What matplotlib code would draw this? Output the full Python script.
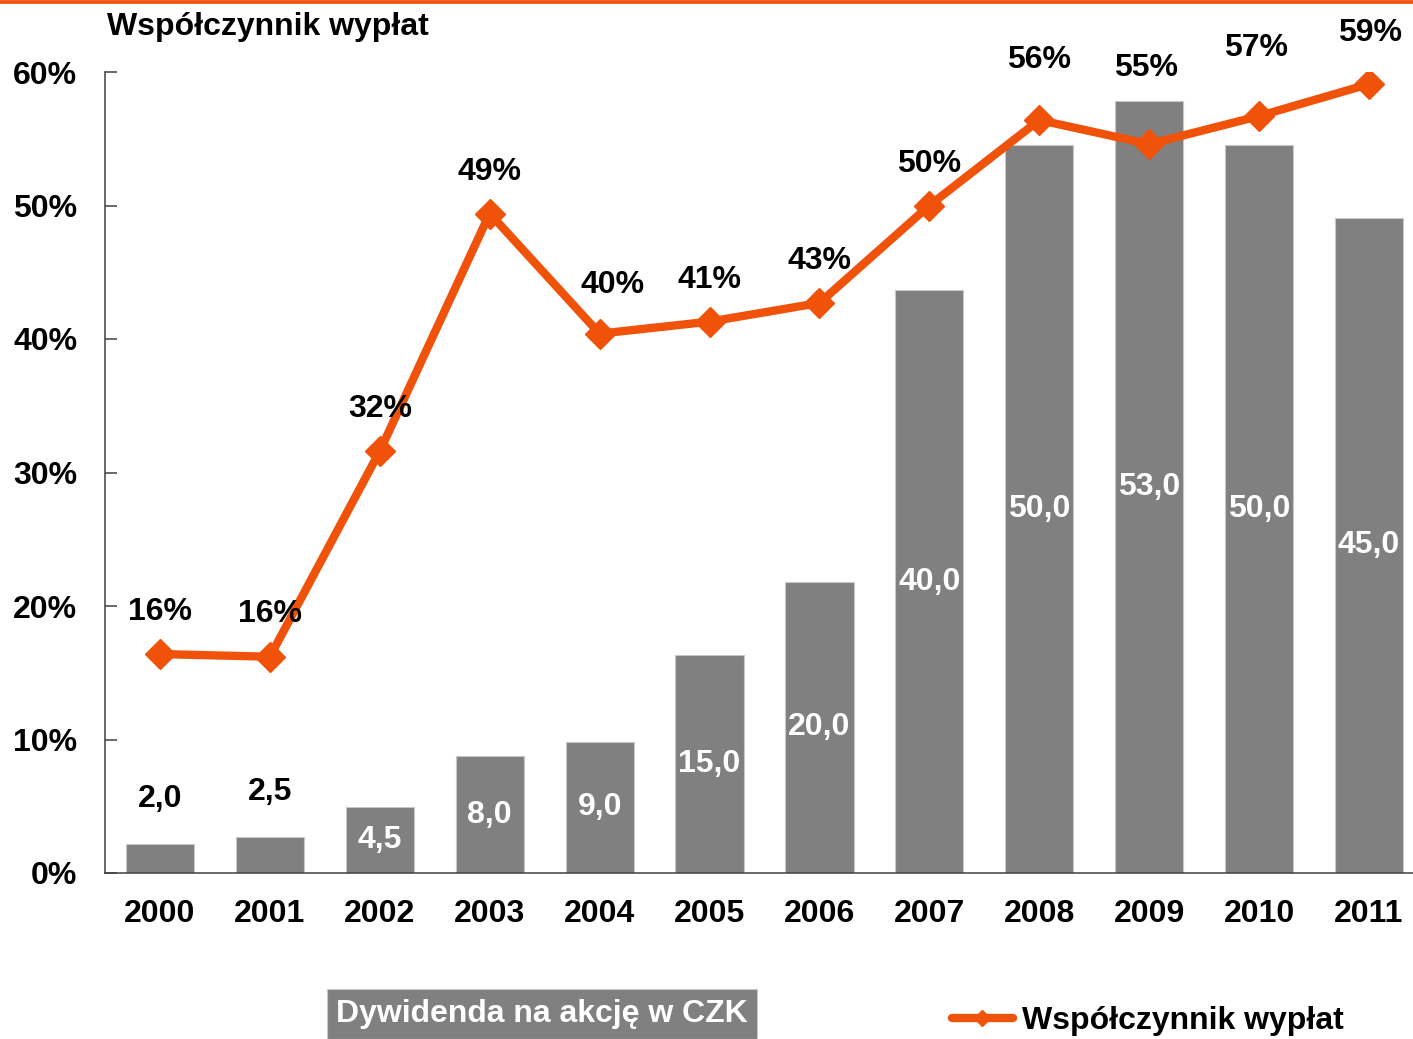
import matplotlib
matplotlib.use("Agg")
import matplotlib.pyplot as plt
from matplotlib.lines import Line2D
from matplotlib.ticker import FuncFormatter

plt.rcParams['font.family'] = ['Liberation Sans', 'DejaVu Sans']
plt.rcParams['font.weight'] = 'bold'

years = ['2000', '2001', '2002', '2003', '2004', '2005', '2006', '2007', '2008', '2009', '2010', '2011']
dividend_czk = [2.0, 2.5, 4.5, 8.0, 9.0, 15.0, 20.0, 40.0, 50.0, 53.0, 50.0, 45.0]
payout_pct = [16.4, 16.2, 31.6, 49.4, 40.4, 41.3, 42.7, 50.0, 56.4, 54.6, 56.7, 59.1]
payout_labels = ['16%', '16%', '32%', '49%', '40%', '41%', '43%', '50%', '56%', '55%', '57%', '59%']
pct_ticks = [0, 10, 20, 30, 40, 50, 60]

# label offsets (points) for the payout labels
lab_dy = [30, 31, 30, 30, 35, 30, 30, 30, 43, 55, 49, 37]
lab_dx = [0, 0, 0, 0, 9, 0, 0, 0, 0, -2, -2, 1]

ORANGE = '#F0520A'
GRAY = '#808080'
FS = 23
W, H = 1413, 1039

fig = plt.figure(figsize=(W / 100, H / 100), dpi=100)
left = 105 / W
right_px = 1424
bottom = (H - 873) / H
top = (H - 72) / H
ax = fig.add_axes([left, bottom, (right_px - 105) / W, top - bottom])
ax2 = ax.twinx()

x = list(range(len(years)))

# Bars (dividend per share)
ax.bar(x, dividend_czk, width=0.62, color=GRAY, edgecolor='#c8c8c8', linewidth=0.8, zorder=2)
ax.set_ylim(0, 55)
ax.set_xlim(-0.5, len(years) - 0.5)
ax.set_yticks([])
for s in ['top', 'right', 'left']:
    ax.spines[s].set_visible(False)
ax.spines['bottom'].set_color('#404040')
ax.spines['bottom'].set_linewidth(1.1)
ax.set_xticks(x)
ax.set_xticklabels(years, fontsize=FS, fontweight='bold')
ax.tick_params(axis='x', length=0, pad=19)

for xi, v in zip(x, dividend_czk):
    txt = f"{v:.1f}".replace('.', ',')
    if v < 4:
        ax.annotate(txt, (xi, v), xytext=(0, 32), textcoords='offset points',
                    ha='center', va='center', fontsize=FS, fontweight='bold', color='black')
    else:
        ax.text(xi, v / 2, txt, ha='center', va='center', fontsize=FS,
                fontweight='bold', color='white', zorder=3)

# Line (payout ratio)
ax2.plot(x, payout_pct, color=ORANGE, lw=6, marker='D', ms=15,
         markeredgecolor=ORANGE, zorder=5, label='Współczynnik wypłat')
ax2.set_ylim(0, 60)
ax2.yaxis.tick_left()
ax2.set_yticks(pct_ticks)
ax2.yaxis.set_major_formatter(FuncFormatter(lambda v, p: f"{v:.0f}%"))
ax2.tick_params(axis='y', direction='in', length=8.6, width=1.1, color='#404040',
                pad=20, labelsize=FS)
for lbl in ax2.get_yticklabels():
    lbl.set_fontweight('bold')
for s in ['top', 'right', 'bottom']:
    ax2.spines[s].set_visible(False)
ax2.spines['left'].set_color('#404040')
ax2.spines['left'].set_linewidth(1.1)

for xi, v, t, dx, dy in zip(x, payout_pct, payout_labels, lab_dx, lab_dy):
    ax2.annotate(t, (xi, v), xytext=(dx, dy), textcoords='offset points',
                 ha='center', va='center', fontsize=FS, fontweight='bold', color='black', zorder=6)

# Title
fig.text(107 / W, 1 - 27 / H, 'Współczynnik wypłat', ha='left', va='center',
         fontsize=FS, fontweight='bold')

# Top orange rule
fig.add_artist(Line2D([0, 1], [1 - 1.8 / H, 1 - 1.8 / H], color=ORANGE, lw=2.7,
                      transform=fig.transFigure))

# Bar legend (gray box)
fig.text(542 / W, 1 - 1014 / H, 'Dywidenda na akcję w CZK', ha='center', va='center',
         fontsize=FS, fontweight='bold', color='white',
         bbox=dict(boxstyle='square,pad=0.3', facecolor=GRAY, edgecolor='#c8c8c8', lw=0.8))

# Line legend
handle = Line2D([], [], color=ORANGE, lw=6, marker='D', ms=8, markeredgecolor=ORANGE,
                solid_capstyle='round')
fig.legend(handles=[handle], labels=['Współczynnik wypłat'], loc='center left',
           bbox_to_anchor=(952 / W, 1 - 1021 / H), frameon=False, handlelength=1.9,
           handletextpad=0.3, borderpad=0, borderaxespad=0,
           prop={'size': FS, 'weight': 'bold'})

fig.savefig('out.png', dpi=100)
